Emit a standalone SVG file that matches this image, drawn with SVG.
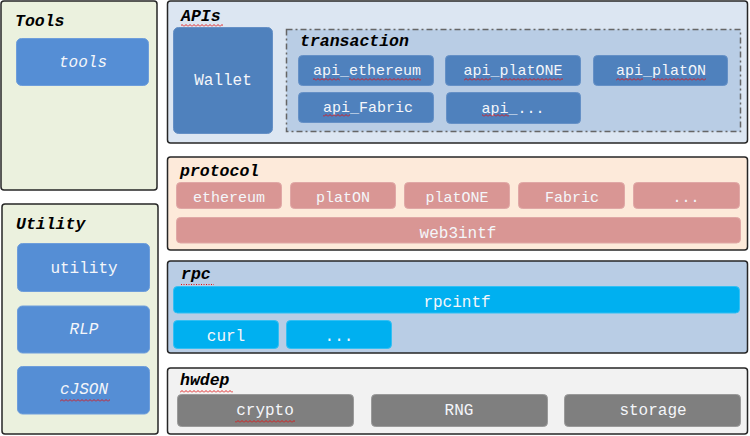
<svg xmlns="http://www.w3.org/2000/svg" width="750" height="436" viewBox="0 0 750 436">
<defs>
<pattern id="sq" width="4" height="3" patternUnits="userSpaceOnUse"><path d="M0,2.5 L2,0.5 L4,2.5" fill="none" stroke="#E01010" stroke-width="0.9"/></pattern>
<style>
.panel{stroke:#262626;stroke-width:1.5}
.title{font-family:"Liberation Mono","Courier New",monospace;font-weight:bold;font-style:italic;font-size:16.5px;fill:#000}
.t{font-family:"Liberation Mono","Courier New",monospace;font-size:16px;fill:#F4F6FA;text-anchor:middle}
.s{font-size:15px}
.it{font-style:italic}
.blue{fill:#558ED5;stroke:#6E9EDB;stroke-width:1}
.dblue{fill:#4F81BD;stroke:#6590C6;stroke-width:1}
.pink{fill:#D99694;stroke:#E0A8A6;stroke-width:1}
.cyan{fill:#00B0F0;stroke:#33BFF3;stroke-width:1}
.gray{fill:#7F7F7F;stroke:#9A9A9A;stroke-width:1}
.squig{fill:url(#sq)}
</style>
</defs>
<g id="tools-panel">
<rect class="panel" x="1" y="1" width="156" height="189" rx="3" fill="#EBF1DE"/>
<text class="title" x="15" y="26">Tools</text>
<g id="tools"><rect class="blue" x="16.5" y="38.5" width="132" height="47" rx="5"/><text class="t it" x="83" y="67">tools</text></g>
</g>
<g id="utility-panel">
<rect class="panel" x="2" y="204" width="156" height="230" rx="3" fill="#EBF1DE"/>
<text class="title" x="16" y="229">Utility</text>
<g id="utility"><rect class="blue" x="17.5" y="243.5" width="132" height="48" rx="5"/><text class="t" x="84" y="273">utility</text></g>
<g id="RLP"><rect class="blue" x="17.5" y="306" width="132" height="47" rx="5"/><text class="t it" x="84" y="334">RLP</text></g>
<g id="cJSON"><rect class="blue" x="17.5" y="366.5" width="132" height="47.5" rx="5"/><text class="t it" x="84" y="394">cJSON</text><rect class="squig" x="60" y="399" width="50" height="3"/></g>
</g>
<g id="apis-panel">
<rect class="panel" x="167.5" y="1" width="580" height="142" rx="3" fill="#DCE6F2"/>
<text class="title" x="181" y="21">APIs</text>
<rect class="squig" x="181" y="24" width="42" height="3"/>
<g id="wallet"><rect class="dblue" x="173.5" y="27.5" width="99" height="106" rx="5"/><text class="t" x="223" y="85">Wallet</text></g>
<g id="transaction">
<rect x="286.5" y="29.5" width="454" height="102" fill="#B9CDE5" stroke="#666" stroke-width="1.5" stroke-dasharray="6,3,2,3"/>
<text class="title" x="300" y="46">transaction</text>
<g id="api_ethereum"><rect class="dblue" x="298.5" y="55.5" width="135" height="30" rx="4"/><text class="t s" x="367" y="75">api_ethereum</text><rect class="squig" x="313" y="78" width="27" height="3"/><rect class="squig" x="349" y="78" width="72" height="3"/></g>
<g id="api_platONE"><rect class="dblue" x="445.5" y="55.5" width="135" height="30" rx="4"/><text class="t s" x="513" y="75">api_platONE</text><rect class="squig" x="464" y="78" width="27" height="3"/><rect class="squig" x="500" y="78" width="63" height="3"/></g>
<g id="api_platON"><rect class="dblue" x="593.5" y="55.5" width="134" height="30" rx="4"/><text class="t s" x="661" y="75">api_platON</text><rect class="squig" x="616" y="78" width="27" height="3"/><rect class="squig" x="652" y="78" width="54" height="3"/></g>
<g id="api_Fabric"><rect class="dblue" x="298.5" y="92.5" width="135" height="30" rx="4"/><text class="t s" x="368" y="112">api_Fabric</text><rect class="squig" x="323" y="114" width="27" height="3"/></g>
<g id="api_more"><rect class="dblue" x="446.5" y="92.5" width="134" height="31" rx="4"/><text class="t s" x="513" y="113">api_...</text><rect class="squig" x="482" y="114" width="27" height="3"/></g>
</g>
</g>
<g id="protocol-panel">
<rect class="panel" x="167.5" y="157" width="580" height="93" rx="3" fill="#FDEADA"/>
<text class="title" x="180" y="176">protocol</text>
<g id="ethereum"><rect class="pink" x="176.5" y="182.5" width="105" height="26" rx="4"/><text class="t s" x="229" y="202">ethereum</text></g>
<g id="platON"><rect class="pink" x="290.5" y="182.5" width="105" height="26" rx="4"/><text class="t s" x="343" y="202">platON</text></g>
<g id="platONE"><rect class="pink" x="404.5" y="182.5" width="105" height="26" rx="4"/><text class="t s" x="457" y="202">platONE</text></g>
<g id="Fabric"><rect class="pink" x="518.5" y="182.5" width="106" height="26" rx="4"/><text class="t s" x="572" y="202">Fabric</text></g>
<g id="protocol-more"><rect class="pink" x="633.5" y="182.5" width="106" height="26" rx="4"/><text class="t s" x="686" y="202">...</text></g>
<g id="web3intf"><rect class="pink" x="176.5" y="217.5" width="564" height="25.5" rx="4"/><text class="t" x="458" y="238">web3intf</text></g>
</g>
<g id="rpc-panel">
<rect class="panel" x="167.5" y="261" width="580" height="92" rx="3" fill="#B9CDE5"/>
<text class="title" x="181" y="279">rpc</text>
<line x1="181" y1="284.5" x2="214" y2="284.5" stroke="#E01010" stroke-width="1" stroke-dasharray="1,1.5"/>
<g id="rpcintf"><rect class="cyan" x="173.5" y="286.5" width="566" height="26.5" rx="4"/><text class="t" x="457" y="307">rpcintf</text></g>
<g id="curl"><rect class="cyan" x="173.5" y="320.5" width="105" height="28" rx="4"/><text class="t" x="226" y="341">curl</text></g>
<g id="rpc-more"><rect class="cyan" x="286.5" y="320.5" width="105" height="28" rx="4"/><text class="t" x="339" y="341">...</text></g>
</g>
<g id="hwdep-panel">
<rect class="panel" x="167.5" y="368" width="580" height="66" rx="3" fill="#F2F2F2"/>
<text class="title" x="180" y="385">hwdep</text>
<rect class="squig" x="180" y="390" width="53" height="3"/>
<g id="crypto"><rect class="gray" x="177.5" y="394.5" width="176" height="32" rx="4"/><text class="t" x="265" y="415">crypto</text><rect class="squig" x="235" y="420" width="60" height="3"/></g>
<g id="RNG"><rect class="gray" x="371.5" y="394.5" width="176" height="32" rx="4"/><text class="t" x="459" y="415">RNG</text></g>
<g id="storage"><rect class="gray" x="564.5" y="394.5" width="176" height="32" rx="4"/><text class="t" x="653" y="415">storage</text></g>
</g>
<g id="connectors"></g>
</svg>
